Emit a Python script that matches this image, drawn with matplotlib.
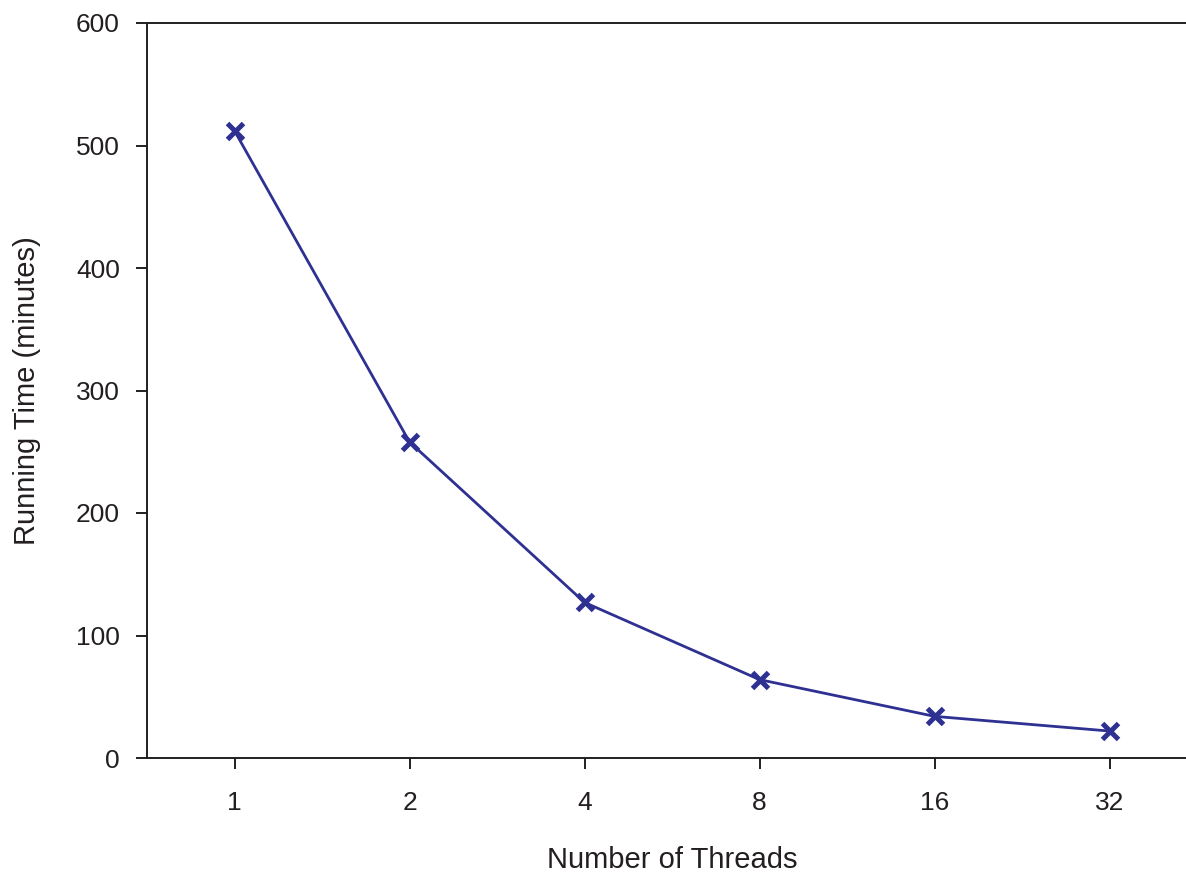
import matplotlib
matplotlib.use("Agg")
import matplotlib.pyplot as plt

threads = ["1", "2", "4", "8", "16", "32"]
running_time = [512, 258, 127, 64, 34, 22]

plt.rcParams['font.family'] = ['Liberation Sans', 'DejaVu Sans']

W, H = 1186, 874
fig = plt.figure(figsize=(W/100, H/100), dpi=100)
ax = fig.add_axes([147/W, (H-758)/H, 1050/W, 735/H])

x = list(range(len(threads)))
ax.plot(x, running_time, color='#2e3192', lw=2.0, marker='x', ms=12, mew=3.6, clip_on=False)

ax.set_xlim(-0.5, 5.5)
ax.set_ylim(0, 600)
ax.set_xticks(x)
ax.set_xticklabels(threads)
ax.set_yticks([0, 100, 200, 300, 400, 500, 600])

dark = '#231f20'
for s in ['left', 'bottom', 'top']:
    ax.spines[s].set_color(dark)
    ax.spines[s].set_linewidth(1.4)
ax.spines['right'].set_visible(False)
ax.tick_params(axis='both', colors=dark, labelsize=19, width=1.4, length=8, direction='out')
ax.tick_params(axis='x', pad=16)
ax.tick_params(axis='y', pad=11.5)
for lab in ax.get_xticklabels() + ax.get_yticklabels():
    lab.set_color(dark)

ax.set_xlabel('Number of Threads', fontsize=21, color=dark)
ax.set_ylabel('Running Time (minutes)', fontsize=21, color=dark)
ax.xaxis.set_label_coords(0.5, (758 - 860) / 735)
ax.xaxis.label.set_va('center')
ax.yaxis.set_label_coords((27 - 147) / 1050, 0.5)
ax.yaxis.label.set_va('center')

fig.savefig('out.png', dpi=100)
